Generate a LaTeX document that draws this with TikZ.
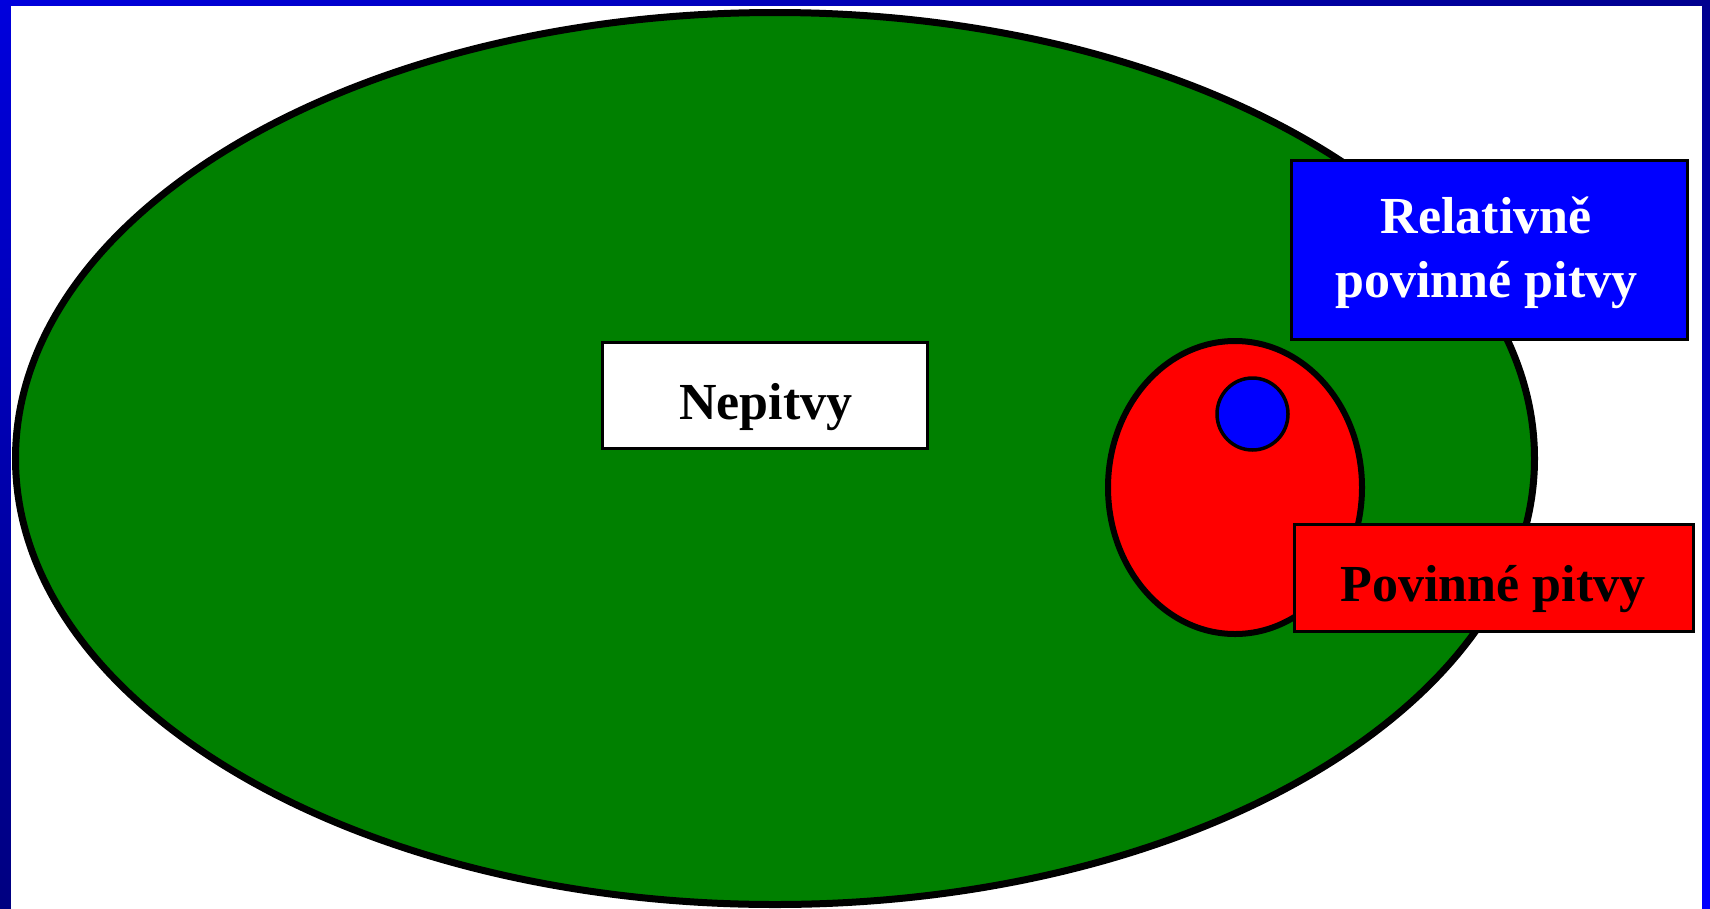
\documentclass[tikz,border=0pt]{standalone}
\usepackage{fontspec}
\setmainfont{Liberation Serif}
\usetikzlibrary{shadings}
\begin{document}
\begin{tikzpicture}[x=1pt,y=-1pt,
  lbl/.style={anchor=base,inner sep=0pt,font=\fontsize{52}{62}\selectfont\bfseries},
  boxshape/.style={draw=black,line width=3.5pt,rectangle,inner sep=0pt}]
\definecolor{pgreen}{HTML}{008000}
\definecolor{pred}{HTML}{FF0000}
\definecolor{pblue}{HTML}{0000FF}
\definecolor{frameA}{HTML}{0000DD}
\definecolor{frameB}{HTML}{00008F}
\definecolor{frameC}{HTML}{000080}
\definecolor{frameD}{HTML}{0000FF}
\useasboundingbox (0,0) rectangle (1710,908);
\clip (0,0) rectangle (1710,908);
% frame gradient
\shade[upper left=frameA,upper right=frameB,lower left=frameC,lower right=frameD] (0,0) rectangle (1710,908);
\fill[white] (11,6) rectangle (1702,912);
% big green ellipse
\draw[fill=pgreen,line width=7pt] (775,458.5) ellipse [x radius=759.5,y radius=446];
% red ellipse
\draw[fill=pred,line width=6pt] (1235,487.5) ellipse [x radius=127,y radius=146.5];
% small blue circle
\draw[fill=pblue,line width=3.5pt] (1252.5,414) ellipse [x radius=35.5,y radius=36];
% boxes
\node[boxshape,fill=white,minimum width=325pt,minimum height=106pt] (nepbox) at (765,395.5) {};
\node[boxshape,fill=pblue,minimum width=396pt,minimum height=179pt] (relbox) at (1489.5,250) {};
\node[boxshape,fill=pred,minimum width=399pt,minimum height=107pt] (povbox) at (1494,578) {};
% labels
\node[lbl] (nep) at (766,419) {Nepitvy};
\node[lbl,text=white] (rel1) at (1486,233) {Relativně};
\node[lbl,text=white] (rel2) at (1486.5,297) {povinné pitvy};
\node[lbl] (pov) at (1493,601) {Povinné pitvy};
\end{tikzpicture}
\end{document}
